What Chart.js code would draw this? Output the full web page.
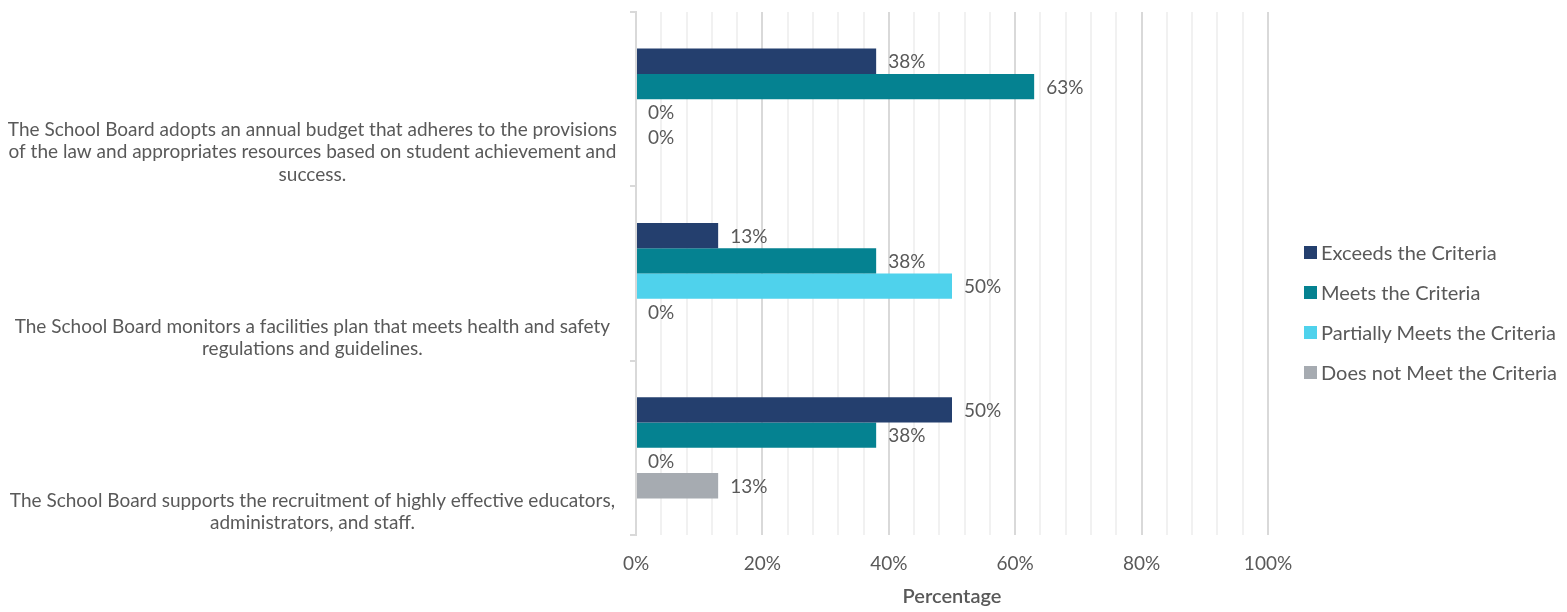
<!DOCTYPE html>
<html>
<head>
<meta charset="utf-8">
<script src="https://cdn.jsdelivr.net/npm/chart.js@4"></script>
<style>
    html, body { margin: 0; padding: 0; background: #fff; }
    #wrap { position: relative; width: 1567px; height: 612px; }
    #legend { position: absolute; left: 1304px; top: 232px; font-family: Lato, sans-serif; font-size: 20px; color: #595959; }
    .legend-item { display: flex; align-items: center; height: 40px; white-space: nowrap; }
    .legend-box { width: 13px; height: 13px; margin-right: 4px; }
</style>
</head>
<body>
<div id="wrap">
    <canvas id="chart" width="1567" height="612"></canvas>
    <div id="legend"></div>
</div>
<script>
const categories = [
    ['The School Board adopts an annual budget that adheres to the provisions',
     'of the law and appropriates resources based on student achievement and',
     'success.'],
    ['The School Board monitors a facilities plan that meets health and safety',
     'regulations and guidelines.'],
    ['The School Board supports the recruitment of highly effective educators,',
     'administrators, and staff.']
];
const seriesNames = ['Exceeds the Criteria', 'Meets the Criteria', 'Partially Meets the Criteria', 'Does not Meet the Criteria'];
const exceeds = [38, 13, 50];
const meets = [63, 38, 38];
const partiallyMeets = [0, 50, 0];
const doesNotMeet = [0, 0, 13];
const xTickLabels = [0, 20, 40, 60, 80, 100];
const colors = ['#243f6e', '#058291', '#4fd2ec', '#a6abb1'];

Chart.defaults.font.family = 'Lato, sans-serif';
Chart.defaults.color = '#595959';

// value labels at the end of each bar
const valueLabels = {
    id: 'valueLabels',
    afterDatasetsDraw(chart) {
        const ctx = chart.ctx;
        ctx.save();
        ctx.font = '19px Lato, sans-serif';
        ctx.fillStyle = '#595959';
        ctx.textAlign = 'left';
        ctx.textBaseline = 'middle';
        chart.data.datasets.forEach((ds, i) => {
            chart.getDatasetMeta(i).data.forEach((bar, j) => {
                ctx.fillText(ds.data[j] + '%', bar.x + 12, bar.y + 1);
            });
        });
        ctx.restore();
    }
};

const seriesData = [exceeds, meets, partiallyMeets, doesNotMeet];

const chart = new Chart(document.getElementById('chart').getContext('2d'), {
    type: 'bar',
    data: {
        labels: categories,
        datasets: seriesNames.map((name, i) => ({
            label: name,
            data: seriesData[i],
            backgroundColor: colors[i],
            borderWidth: 0,
            categoryPercentage: 0.58,
            barPercentage: 1
        }))
    },
    options: {
        indexAxis: 'y',
        responsive: false,
        animation: false,
        layout: {
            padding: { top: 12, right: 299, bottom: 0, left: 0 }
        },
        scales: {
            x: {
                min: 0,
                max: 100,
                grid: {
                    drawTicks: false,
                    lineWidth: 2,
                    color: c => (c.tick && c.tick.value % 20 === 0) ? '#d9d9d9' : '#f1f1f1'
                },
                border: { display: false },
                ticks: {
                    stepSize: 4,
                    autoSkip: false,
                    maxRotation: 0,
                    padding: 17,
                    color: '#595959',
                    font: { size: 19 },
                    callback: v => xTickLabels.includes(v) ? v + '%' : ''
                },
                title: {
                    display: true,
                    text: 'Percentage',
                    color: '#595959',
                    font: { size: 20, weight: '600' },
                    padding: { top: 4, bottom: 3 }
                },
                afterFit: s => { s.height = 77; }
            },
            y: {
                grid: {
                    drawOnChartArea: false,
                    tickLength: 6,
                    color: '#d9d9d9',
                    lineWidth: 2,
                    offset: true
                },
                border: { display: true, color: '#d9d9d9', width: 2 },
                ticks: {
                    autoSkip: false,
                    padding: 13,
                    crossAlign: 'center',
                    labelOffset: 53,
                    color: '#595959',
                    font: { size: 19, lineHeight: 1.18 }
                },
                afterTickToLabelConversion: s => {
                    // two-line labels sit low in the band like the three-line one
                    s.ticks.forEach(t => {
                        if (Array.isArray(t.label) && t.label.length < 3) t.label = [''].concat(t.label);
                    });
                },
                afterFit: s => {
                    s.width = 636;
                    s.paddingTop = 0;
                    s.paddingBottom = 0;
                }
            }
        },
        plugins: {
            legend: { display: false },
            tooltip: { enabled: false }
        }
    },
    plugins: [valueLabels]
});

const legendEl = document.getElementById('legend');
chart.data.datasets.forEach(ds => {
    const item = document.createElement('div');
    item.className = 'legend-item';
    item.innerHTML = `<span class="legend-box" style="background:${ds.backgroundColor}"></span><span>${ds.label}</span>`;
    legendEl.appendChild(item);
});
</script>
</body>
</html>
